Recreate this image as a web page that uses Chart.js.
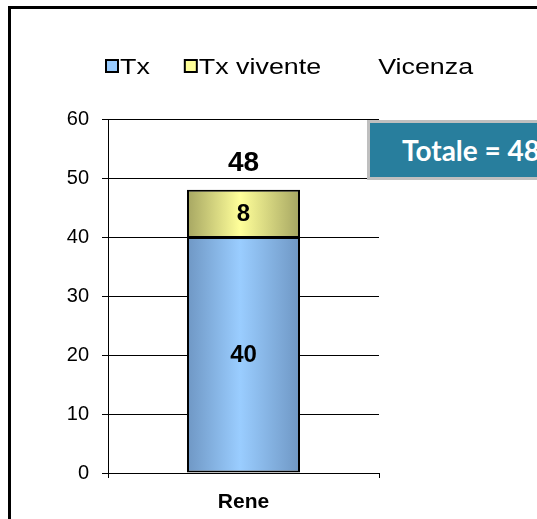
<!DOCTYPE html>
<html>
<head>
<meta charset="utf-8">
<script src="https://cdn.jsdelivr.net/npm/chart.js@4"></script>
<style>
    html, body { margin: 0; padding: 0; background: #fff; overflow: hidden; }
    #wrap { position: relative; width: 537px; height: 519px; overflow: hidden; }
    #frame { position: absolute; left: 8px; top: 6px; width: 700px; height: 700px; border: 3px solid #000; }
    #chart { position: absolute; left: 0; top: 0; }
    #totale {
        position: absolute; left: 367px; top: 120px; width: 240px; height: 60px;
        box-sizing: border-box; border: 3px solid #bfbfbf; background: #287e9d;
        color: #fff; font: bold 28px Lato, "Liberation Sans", sans-serif;
        line-height: 54px; padding-left: 32px; white-space: nowrap;
    }
</style>
</head>
<body>
<div id="wrap">
    <div id="frame"></div>
    <canvas id="chart" width="537" height="519"></canvas>
    <div id="totale"></div>
</div>
<script>
// Chart data
const categories = ['Rene'];
const txValues = [40];
const txViventeValues = [8];
const seriesLabels = ['Tx', 'Tx vivente'];
const yTicks = [0, 10, 20, 30, 40, 50, 60];
const chartTitle = 'Vicenza';
const totalPrefix = 'Totale = ';

const barPct = 0.417;
const font = '"Liberation Sans", Arial, sans-serif';

// horizontal shaded fill like the office 3D-ish bars
function barFill(light, dark) {
    return function(ctx) {
        const chart = ctx.chart;
        const area = chart.chartArea;
        if (!area || !chart.scales.x || ctx.dataIndex === undefined) return light;
        const x = chart.scales.x.getPixelForValue(ctx.dataIndex);
        if (!isFinite(x)) return light;
        const half = (area.right - area.left) / categories.length * barPct / 2;
        const g = chart.ctx.createLinearGradient(x - half, 0, x + half, 0);
        g.addColorStop(0, dark);
        g.addColorStop(0.47, light);
        g.addColorStop(1, dark);
        return g;
    };
}

// values inside the segments and total on top
const valueLabels = {
    id: 'valueLabels',
    afterDatasetsDraw(chart) {
        const c = chart.ctx;
        const sets = chart.data.datasets;
        c.save();
        c.fillStyle = '#000';
        c.textAlign = 'center';
        c.textBaseline = 'middle';
        c.font = 'bold 24px ' + font;
        sets.forEach((ds, i) => {
            chart.getDatasetMeta(i).data.forEach((bar, j) => {
                c.fillText(ds.data[j], bar.x, (bar.y + bar.base) / 2 + 1);
            });
        });
        c.font = 'bold 28px ' + font;
        chart.getDatasetMeta(sets.length - 1).data.forEach((bar, j) => {
            const total = sets.reduce((s, ds) => s + ds.data[j], 0);
            c.fillText(total, bar.x, bar.y - 27);
        });
        c.restore();
    }
};

// legend row: boxes + labels, then the title
const legendRow = {
    id: 'legendRow',
    afterDraw(chart) {
        const c = chart.ctx;
        const sx = 1.22;
        const top = 59, size = 14, baseline = 73.5;
        let x = 105;
        c.save();
        c.font = '22px ' + font;
        c.textBaseline = 'alphabetic';
        const text = (t, tx) => {
            c.save();
            c.translate(tx, baseline);
            c.scale(sx, 1);
            c.fillStyle = '#000';
            c.fillText(t, 0, 0);
            c.restore();
            return c.measureText(t).width * sx;
        };
        chart.data.datasets.forEach(ds => {
            c.fillStyle = ds.legendFill;
            c.fillRect(x + 1, top + 1, size - 2, size - 2);
            c.lineWidth = 2;
            c.strokeStyle = '#000';
            c.strokeRect(x + 1, top + 1, size - 2, size - 2);
            x += size + 1;
            x += text(ds.label, x) + 34;
        });
        text(chartTitle, x + 23);
        c.restore();
    }
};

const total = txValues[0] + txViventeValues[0];
document.getElementById('totale').textContent = totalPrefix + total;

new Chart(document.getElementById('chart'), {
    type: 'bar',
    data: {
        labels: categories,
        datasets: [{
            label: seriesLabels[0],
            data: txValues,
            legendFill: '#99ccff',
            backgroundColor: barFill('#9acdff', '#6f97c4'),
            borderColor: '#000',
            borderWidth: 2,
            borderSkipped: false
        }, {
            label: seriesLabels[1],
            data: txViventeValues,
            legendFill: '#ffff99',
            backgroundColor: barFill('#ffff9a', '#a6a662'),
            borderColor: '#000',
            borderWidth: { top: 2, left: 2, right: 2, bottom: 1 },
            borderSkipped: false
        }]
    },
    options: {
        responsive: false,
        animation: false,
        barPercentage: barPct,
        categoryPercentage: 1,
        layout: {
            padding: { top: 119, right: 158, bottom: 0, left: 0 }
        },
        plugins: {
            legend: { display: false },
            tooltip: { enabled: false }
        },
        scales: {
            x: {
                stacked: true,
                afterFit: s => { s.height = 46; },
                grid: {
                    display: true,
                    drawOnChartArea: false,
                    drawTicks: true,
                    tickLength: 5,
                    color: '#000'
                },
                border: { display: true, color: '#000' },
                ticks: {
                    color: '#000',
                    padding: 12,
                    font: { family: font, size: 21, weight: 'bold' }
                }
            },
            y: {
                stacked: true,
                min: yTicks[0],
                max: yTicks[yTicks.length - 1],
                afterFit: s => { s.width = 108; },
                afterBuildTicks: s => { s.ticks = yTicks.map(v => ({ value: v })); },
                grid: {
                    color: '#000',
                    drawTicks: true,
                    tickLength: 6
                },
                border: { display: true, color: '#000' },
                ticks: {
                    color: '#000',
                    padding: 13,
                    font: { family: font, size: 20 }
                }
            }
        }
    },
    plugins: [valueLabels, legendRow]
});
</script>
</body>
</html>
